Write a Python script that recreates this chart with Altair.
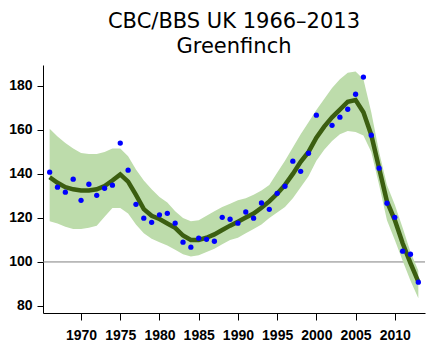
import altair as alt
import pandas as pd

years = list(range(1966, 2014))

index_vals = [140.8, 134.0, 131.7, 137.6, 128.0, 135.3, 130.3, 133.5, 134.9, 154.0,
              141.7, 126.2, 119.9, 118.0, 121.4, 122.1, 117.6, 109.0, 106.7, 110.8,
              110.3, 109.4, 120.3, 119.4, 117.6, 122.7, 119.9, 126.8, 123.9, 131.2,
              134.4, 145.8, 141.2, 149.4, 166.7, None, 162.1, 165.8, 169.4, 176.2,
              184.0, 157.6, 142.6, 126.7, 120.3, 104.9, 103.5, 90.8]

trend = [138.5, 136.0, 134.0, 133.0, 132.5, 132.5, 133.0, 134.5, 137.0, 139.8,
         136.5, 130.5, 124.0, 121.0, 119.5, 117.5, 115.5, 112.0, 110.0, 110.0,
         111.0, 112.5, 114.5, 116.5, 118.3, 120.2, 122.0, 124.6, 127.5, 131.0,
         135.0, 140.0, 145.5, 150.0, 156.5, 161.5, 165.7, 169.2, 172.8, 173.6,
         168.0, 157.7, 142.6, 127.5, 119.0, 108.5, 99.5, 91.0]

upper = [160.5, 157.0, 154.0, 151.5, 149.5, 149.0, 149.0, 150.0, 151.5, 151.5,
         148.0, 142.0, 137.0, 133.0, 129.5, 127.0, 123.0, 120.0, 118.5, 119.0,
         121.0, 123.0, 125.0, 126.5, 128.0, 129.0, 130.5, 132.5, 135.0, 140.5,
         146.0, 152.0, 158.0, 163.5, 169.0, 174.0, 179.0, 183.0, 186.0, 186.5,
         183.0, 168.0, 150.0, 135.0, 126.0, 115.5, 104.5, 96.0]

lower = [118.5, 117.5, 116.0, 115.0, 115.0, 115.5, 116.5, 120.5, 124.5, 124.5,
         122.0, 117.0, 113.0, 110.5, 109.0, 107.5, 105.5, 103.5, 102.5, 103.0,
         104.5, 106.0, 108.0, 110.0, 111.0, 113.0, 115.0, 117.0, 120.0, 122.5,
         125.0, 129.0, 134.0, 139.0, 146.0, 151.0, 155.0, 158.0, 159.5, 159.0,
         157.5, 150.0, 135.0, 119.0, 110.0, 100.5, 91.5, 83.5]

x_ticks = [1970, 1975, 1980, 1985, 1990, 1995, 2000, 2005, 2010]
y_ticks = [80, 100, 120, 140, 160, 180]
baseline_value = [100]

df = pd.DataFrame({"year": years, "index": index_vals, "trend": trend,
                   "upper": upper, "lower": lower})
ref = pd.DataFrame({"y": baseline_value})

xscale = alt.Scale(domain=[1965.15, 2013.85], nice=False, zero=False)
yscale = alt.Scale(domain=[76.8, 189.5], nice=False, zero=False)

x_axis = alt.Axis(values=x_ticks, format="d", title=None, grid=False,
                  tickSize=7, labelPadding=8, domainColor="black",
                  tickColor="black", labelFlush=False)
y_axis = alt.Axis(values=y_ticks, title=None, grid=False, tickSize=6,
                  labelPadding=5, domainColor="black", tickColor="black")

X = alt.X("year:Q", scale=xscale, axis=x_axis)

rule = alt.Chart(ref).mark_rule(color="#808080", strokeWidth=1).encode(
    y=alt.Y("y:Q", scale=yscale, axis=y_axis)
)

band = alt.Chart(df).mark_area(color="#bddcab", opacity=1).encode(
    x=X,
    y=alt.Y("lower:Q", scale=yscale, axis=y_axis),
    y2="upper:Q",
)

line = alt.Chart(df).mark_line(color="#3b5e10", strokeWidth=4.5).encode(
    x=X,
    y=alt.Y("trend:Q", scale=yscale, axis=y_axis),
)

points = alt.Chart(df).transform_filter("isValid(datum['index'])").mark_circle(
    color="#0000ff", opacity=1, size=28
).encode(
    x=X,
    y=alt.Y("index:Q", scale=yscale, axis=y_axis),
)

chart = alt.layer(rule, band, line, points).properties(
    width=382,
    height=248,
    title=alt.TitleParams(
        ["CBC/BBS UK 1966–2013", "Greenfinch"],
        fontSize=21, font="DejaVu Sans", fontWeight="normal",
        anchor="middle", lineHeight=25, color="black", offset=8,
    ),
    autosize=alt.AutoSizeParams(type="none"),
    padding={"left": 43, "top": 65, "right": 8, "bottom": 40},
    background="white",
).configure_view(stroke=None).configure_axis(
    labelFont="Liberation Sans", labelFontWeight="bold", labelFontSize=14,
    labelColor="black", domainWidth=1, tickWidth=1,
)

chart.save("out.html", embed_options={"renderer": "svg", "actions": False})
